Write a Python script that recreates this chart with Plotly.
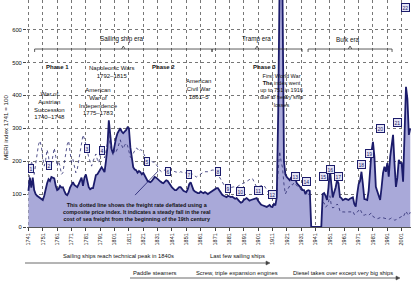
import plotly.graph_objects as go

years = list(range(1741, 2008))

# Freight rate index (solid line, filled), 1741 = 100
freight_index = [
    110, 150, 120, 150, 112, 100, 95, 92, 88, 85,          # 1741-1750
    82, 95, 120, 133, 145, 140, 152, 150, 148, 125,        # 1751-1760
    112, 115, 125, 120, 121, 110, 100, 97, 105, 120,       # 1761-1770
    130, 136, 128, 125, 121, 130, 140, 150, 125, 150,      # 1771-1780
    160, 135, 121, 115, 118, 118, 135, 158, 160, 170,      # 1781-1790
    175, 182, 175, 167, 200, 242, 324, 264, 235, 224,      # 1791-1800
    250, 270, 285, 295, 300, 290, 285, 290, 294, 303,      # 1801-1810
    300, 242, 210, 182, 175, 173, 165, 170, 167, 160,      # 1811-1820
    165, 155, 148, 140, 138, 136, 140, 148, 152, 150,      # 1821-1830
    145, 142, 138, 135, 133, 138, 142, 140, 135, 127,      # 1831-1840
    120, 115, 112, 112, 116, 121, 121, 115, 110, 108,      # 1841-1850
    106, 115, 130, 136, 125, 112, 108, 105, 103, 103,      # 1851-1860
    108, 105, 103, 106, 103, 100, 103, 106, 110, 112,      # 1861-1870
    115, 118, 118, 112, 103, 98, 95, 93, 91, 95,           # 1871-1880
    93, 91, 92, 88, 86, 88, 82, 78, 74, 76,                # 1881-1890
    82, 86, 88, 84, 80, 82, 84, 86, 88, 88,                # 1891-1900
    80, 72, 68, 66, 64, 62, 61, 64, 67, 62,                # 1901-1910
    61, 70, 66, 90, 350, 751, 720, 700, 200, 160,          # 1911-1920
    152, 145, 142, 150, 155, 158, 145, 133, 128, 121,      # 1921-1930
    118, 112, 112, 100, 110, 112, 110, 0, 0, 0,            # 1931-1940
    0, 0, 0, 0, 0, 100, 103, 95, 82, 120,                  # 1941-1950
    176, 130, 90, 106, 120, 142, 133, 91, 88, 82,          # 1951-1960
    85, 86, 84, 82, 86, 88, 90, 70, 62, 100,               # 1961-1970
    130, 140, 168, 130, 85, 84, 82, 110, 180, 230,         # 1971-1980
    259, 214, 122, 107, 90, 82, 120, 164, 183, 168,        # 1981-1990
    194, 153, 214, 250, 280, 194, 122, 150, 204, 194,      # 1991-2000
    194, 138, 264, 426, 390, 280, 300,                     # 2001-2007
]

# Deflated freight rate (dotted line)
deflated_index = [
    130, 175, 200, 185, 160, 190, 225, 250, 262, 245,
    210, 185, 205, 235, 215, 175, 190, 220, 240, 215,
    185, 200, 185, 160, 165, 195, 225, 250, 262, 235,
    195, 205, 185, 165, 175, 205, 235, 262, 280, 268,
    245, 232, 212, 195, 185, 200, 212, 222, 205, 195,
    220, 240, 230, 210, 228, 255, 280, 248, 228, 218,
    235, 228, 238, 255, 265, 248, 238, 248, 255, 248,
    232, 212, 215, 225, 235, 240, 238, 230, 235, 233,
    225, 215, 208, 205, 203, 200, 198, 197, 197, 190,
    185, 178, 170, 167, 170, 175, 178, 180, 179, 176,
    172, 170, 168, 167, 166, 165, 168, 166, 164, 164,
    165, 166, 170, 167, 162, 158, 155, 152, 155, 158,
    162, 165, 167, 168, 167, 168, 170, 172, 173, 173,
    170, 165, 160, 152, 142, 135, 128, 122, 120, 118,
    118, 120, 122, 122, 121, 121, 124, 127, 130, 132,
    133, 136, 140, 142, 145, 147, 148, 140, 130, 121,
    122, 124, 126, 127, 127, 120, 110, 106, 100, 95,
    90, 95, 90, 110, 170, 230, 200, 180, 130, 100,
    110, 120, 125, 130, 128, 135, 130, 125, 120, 115,
    112, 110, 112, 105, 108, 100, 95, None, None, None,
    None, None, None, None, None, 75, 73, 60, 65, 76,
    95, 65, 58, 60, 62, 70, 65, 48, 45, 46,
    45, 44, 45, 46, 45, 46, 48, 38, 40, 45,
    50, 55, 45, 36, 36, 38, 36, 35, 40, 42,
    32, 28, 27, 25, 26, 28, 30, 28, 27, 25,
    24, 23, 25, 28, 25, 21, 22, 24, 26, 30,
    32, 30, 38, 48, 40, 35, 45,
]

# Numbered cycle boxes (year, index level, label)
box_years = [1743, 1755, 1781.5, 1792, 1823.5, 1838, 1853, 1873, 1880, 1888.5, 1901,
             1910.7, 1926.7, 1934.4, 1946.5, 1951.1, 1956.7, 1973.3, 1978.8, 1986.1, 1997.9, 2003.8]
box_values = [179, 188, 240, 234, 198, 170, 161, 170, 118, 109, 112,
              100, 155, 137, 152, 176, 152, 191, 222, 300, 317, 668]
box_labels = [str(i) for i in range(1, 23)]

x_ticks = list(range(1741, 2002, 10))
y_ticks = [0, 100, 200, 300, 400, 500, 600]

NAVY = "#1c1c6b"
FILL = "#a9a9d9"
TXT = "#111111"
FONT = "Liberation Sans, Arial, sans-serif"

W, H = 413, 281
ML, MR, MT, MB = 27, 2, 0, 54
PW, PH = W - ML - MR, H - MT - MB

def px(xp):   # page pixel -> paper x
    return (xp - ML) / PW

def py(yp):   # page pixel -> paper y
    return (H - MB - yp) / PH

fig = go.Figure()
fig.add_trace(go.Scatter(x=years, y=freight_index, mode="lines", fill="tozeroy",
                         fillcolor=FILL, line=dict(color=NAVY, width=1.8),
                         showlegend=False, hoverinfo="skip"))
fig.add_trace(go.Scatter(x=years, y=deflated_index, mode="lines",
                         line=dict(color="#2a2a70", width=0.8, dash="dot"),
                         connectgaps=False, showlegend=False, hoverinfo="skip"))

ann = []
for bx, by, bl in zip(box_years, box_values, box_labels):
    ann.append(dict(x=bx, y=by, xref="x", yref="y", text=bl, showarrow=False,
                    font=dict(size=5, color=NAVY, family=FONT),
                    bgcolor="#e4e4f4", bordercolor=NAVY, borderwidth=1, borderpad=0.6))

def txt(x, y, t, size=6, bold=False, xref="x", yref="y", **kw):
    if bold:
        t = "<b>" + t.replace("<br>", "</b><br><b>") + "</b>"
    d = dict(x=x, y=y, xref=xref, yref=yref, text=t, showarrow=False,
             xanchor="center", yanchor="middle",
             font=dict(size=size, color=TXT, family=FONT), align="center")
    d.update(kw)
    ann.append(d)

txt(1805.9, 571, "Sailing ship era", 6.3)
txt(1899.9, 571, "Tramp era", 6.3)
txt(1963.6, 571, "Bulk era", 6.3)
txt(1761.3, 486, "Phase 1", 6, bold=True)
txt(1835.1, 486, "Phase 2", 6, bold=True)
txt(1905.1, 486, "Phase 3", 6, bold=True)
txt(1799.2, 471, "Napoleonic Wars<br>1792–1815", 6)
txt(1756, 369, "War of<br>Austrian<br>Succession<br>1740–1748", 6)
txt(1789.8, 383, "American<br>War of<br>Independence<br>1775–1783", 6)
txt(1859.8, 418, "American<br>Civil War<br>1861–5", 6)
txt(1917, 416, "First World War<br><b>The</b> index went<br>up to 751 in 1916<br>due to heavy ship<br>losses", 5.5)
txt(1816.7, 46, "This dotted line shows the freight rate deflated using a<br>"
     "composite price index. It indicates a steady fall in the real<br>"
     "cost of sea freight from the beginning of the 19th century", 5.4, bold=True)

# y-axis title
txt(px(6), py(128), "MERI index 1741 = 100", 6.2, xref="paper", yref="paper", textangle=-90)

# bottom technology notes
txt(px(118.5), py(256), "Sailing ships reach technical peak in 1840s", 5.8, xref="paper", yref="paper")
txt(px(237), py(256), "Last few sailing ships", 5.8, xref="paper", yref="paper")
txt(px(155), py(272.5), "Paddle steamers", 5.8, xref="paper", yref="paper")
txt(px(237), py(272.5), "Screw, triple expansion engines", 5.8, xref="paper", yref="paper")
txt(px(343), py(272.5), "Diesel takes over except very big ships", 5.8, xref="paper", yref="paper")

shapes = []
def seg(x0, y0, x1, y1, color="#333", width=0.8):
    shapes.append(dict(type="line", xref="x", yref="y", x0=x0, y0=y0, x1=x1, y1=y1,
                       line=dict(color=color, width=width)))

# bottom arrows (layout decoration, paper coords)
for x0, x1, yy in [(25, 270, 263), (130, 400, 278)]:
    shapes.append(dict(type="line", xref="paper", yref="paper", x0=px(x0), y0=py(yy),
                       x1=px(x1 - 2), y1=py(yy), line=dict(color="#444", width=0.8)))
    shapes.append(dict(type="path", xref="paper", yref="paper",
                       path=f"M {px(x1-4)} {py(yy-2)} L {px(x1)} {py(yy)} L {px(x1-4)} {py(yy+2)} Z",
                       fillcolor="#444", line=dict(color="#444", width=0.5)))

for a, b in [(1745.3, 1868.9), (1868.9, 1931.6), (1935.8, 1994.3)]:
    seg(a, 541, b, 541)
    seg(a, 541, a, 532)
    seg(b, 541, b, 532)
    m = (a + b) / 2
    seg(m - 1.2, 541, m, 550)
    seg(m, 550, m + 1.2, 541)

# pointer from note to dotted line
seg(1815.3, 97, 1831.3, 170, color=NAVY, width=0.8)

fig.update_layout(
    width=W, height=H, autosize=False,
    margin=dict(l=ML, r=MR, t=MT, b=MB),
    paper_bgcolor="white", plot_bgcolor="white",
    font=dict(family=FONT, color=TXT),
    annotations=ann, shapes=shapes, showlegend=False,
)
fig.update_xaxes(range=[1740, 2007.5], tickvals=x_ticks, ticktext=[str(t) for t in x_ticks],
                 tickangle=-90, tickfont=dict(size=5.5, color=TXT), ticks="outside", ticklen=3,
                 tickcolor="#444", showgrid=True, gridcolor="#777", griddash="dot", gridwidth=0.8,
                 showline=True, linecolor="#555", linewidth=1, zeroline=False)
fig.update_yaxes(range=[0, 690], tickvals=y_ticks, ticktext=[str(t) for t in y_ticks],
                 tickfont=dict(size=5.8, color=TXT), ticks="outside", ticklen=3, tickcolor="#444",
                 showgrid=True, gridcolor="#777", griddash="dot", gridwidth=0.8,
                 showline=False, zeroline=False)

fig.write_html("out.html", config={"displayModeBar": False})
